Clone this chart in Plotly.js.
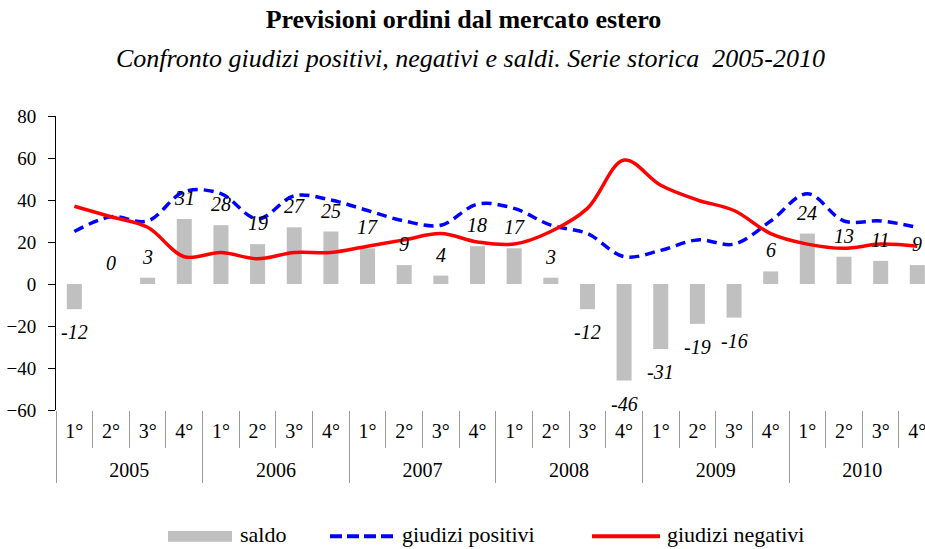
<!DOCTYPE html>
<html>
<head>
<meta charset="utf-8">
<script src="https://cdn.plot.ly/plotly-3.0.1.min.js"></script>
<style>html,body{margin:0;padding:0;background:#fff;}#chart{width:925px;height:549px;}</style>
</head>
<body>
<div id="chart"></div>
<script>
const years = ["2005","2006","2007","2008","2009","2010"];
const quarters = ["1°","2°","3°","4°"];
const saldo = [-12,0,3,31,28,19,27,25,17,9,4,18,17,3,-12,-46,-31,-19,-16,6,24,13,11,9];
const positivi = [25,32,30,44,43,31,42,40,35,30,28,38,36,28,24,13,16,21,19,30,43,30,30,27];
const negativi = [37,32,27,13,15,12,15,15,18,21,24,20,19,25,36,59,47,40,35,24,19,17,19,18];
const seriesNames = ["saldo","giudizi positivi","giudizi negativi"];

const xYear = [], xQ = [];
years.forEach(y => quarters.forEach(q => { xYear.push(y); xQ.push(q); }));
const X = [xYear, xQ];
const nQ = quarters.length;

const FONT = "Liberation Serif, Times New Roman, serif";
const GRAY = '#c0c0c0', BLUE = '#0000ff', RED = '#ff0000', TICKGRAY = '#9a9a9a';
const xr = [-0.5, 23.21];

// pixel helpers for decorative (non-data) elements
const PL = 56, PW = 869, PB = 410, PH = 294.3;
const px = p => (p - PL) / PW;
const py = p => (PB - p) / PH;

const qCenters = xQ.map((_, i) => i);
const qBounds = xQ.map((_, i) => i - 0.5);
const yCenters = years.map((_, j) => j * nQ + (nQ - 1) / 2);
const yBounds = years.map((_, j) => j * nQ - 0.5);

const traces = [
  {type:'bar', name:seriesNames[0], x:X, y:saldo, marker:{color:GRAY}, width:0.41, showlegend:false},
  {type:'scatter', mode:'lines', name:seriesNames[1], x:X, y:positivi, showlegend:false,
   line:{color:BLUE, width:3.5, dash:'10px,6px', shape:'spline', smoothing:1}},
  {type:'scatter', mode:'lines', name:seriesNames[2], x:X, y:negativi, showlegend:false,
   line:{color:RED, width:3.5, shape:'spline', smoothing:1}},
  // carriers for the label axes (no visible marks)
  {type:'scatter', mode:'none', x:qCenters, y:qCenters.map(() => null), xaxis:'x3', showlegend:false, hoverinfo:'skip'},
  {type:'scatter', mode:'none', x:yCenters, y:yCenters.map(() => null), xaxis:'x4', showlegend:false, hoverinfo:'skip'}
];

const annotations = saldo.map((v, i) => ({
  x: i, y: v, xref:'x', yref:'y', text: String(v), showarrow:false,
  yshift: v >= 0 ? 21 : -23, yanchor:'middle',
  font:{family:FONT, size:20, color:'#000', style:'italic'}
}));
annotations.push({
  xref:'paper', yref:'paper', x:px(470), y:py(58), yanchor:'middle', xanchor:'center',
  text:'Confronto giudizi positivi, negativi e saldi. Serie storica  2005-2010',
  showarrow:false, font:{family:FONT, size:26, color:'#000', style:'italic'}
});

// manual legend
const legTextX = [238, 400, 665];
seriesNames.forEach((n, k) => annotations.push({
  xref:'paper', yref:'paper', x:px(legTextX[k]), y:py(535), xanchor:'left', yanchor:'middle',
  text:n, showarrow:false, font:{family:FONT, size:22, color:'#000'}
}));
const shapes = [
  {type:'rect', xref:'paper', yref:'paper', x0:px(168), x1:px(232), y0:py(542), y1:py(531),
   fillcolor:GRAY, line:{width:0}},
  {type:'line', xref:'paper', yref:'paper', x0:px(330), x1:px(397), y0:py(536.5), y1:py(536.5),
   line:{color:BLUE, width:4, dash:'12px,5px'}},
  {type:'line', xref:'paper', yref:'paper', x0:px(592), x1:px(660), y0:py(536.5), y1:py(536.5),
   line:{color:RED, width:4}}
];

const layout = {
  width:925, height:549,
  margin:{l:PL, r:0, t:116, b:139},
  paper_bgcolor:'#fff', plot_bgcolor:'#fff',
  font:{family:FONT, size:19, color:'#000'},
  title:{text:'<b>Previsioni ordini dal mercato estero</b>', xref:'container', yref:'container',
         x:463.5/925, y:1-19/549, xanchor:'center', yanchor:'middle',
         font:{family:FONT, size:26, color:'#000'}},
  showlegend:false,
  xaxis:{type:'multicategory', range:xr, showline:false, ticks:'', showticklabels:false,
         showdividers:false, showgrid:false, zeroline:false},
  xaxis2:{overlaying:'x', anchor:'free', position:60/140, range:xr, tickmode:'array', tickvals:qBounds,
          ticks:'outside', ticklen:6, tickcolor:'#000', showticklabels:false, showline:true,
          linecolor:'#000', linewidth:1, showgrid:false, zeroline:false},
  xaxis3:{type:'linear', overlaying:'x', anchor:'y', side:'bottom', range:xr, tickmode:'array', tickvals:qCenters, ticktext:xQ,
          ticks:'', showline:false, showgrid:false, zeroline:false, ticklabelstandoff:7, ticklabeloverflow:'allow',
          tickfont:{family:FONT, size:20, color:'#000'},
          minor:{tickmode:'array', tickvals:qBounds, ticks:'outside', ticklen:37, tickcolor:TICKGRAY, tickwidth:1, showgrid:false}},
  xaxis4:{type:'linear', overlaying:'x', anchor:'y', side:'bottom', range:xr, tickmode:'array', tickvals:yCenters, ticktext:years,
          ticks:'', showline:false, showgrid:false, zeroline:false, ticklabelstandoff:46, ticklabeloverflow:'allow',
          tickfont:{family:FONT, size:20, color:'#000'},
          minor:{tickmode:'array', tickvals:yBounds, ticks:'outside', ticklen:72, tickcolor:TICKGRAY, tickwidth:1, showgrid:false}},
  yaxis:{range:[-60,80], dtick:20, ticks:'outside', ticklen:7, tickcolor:'#000', showline:true,
         linecolor:'#000', linewidth:1, zeroline:false, showgrid:false, ticklabelstandoff:8,
         tickfont:{family:FONT, size:19, color:'#000'}},
  annotations: annotations,
  shapes: shapes
};

Plotly.newPlot('chart', traces, layout, {displayModeBar:false, staticPlot:true});
</script>
</body>
</html>
